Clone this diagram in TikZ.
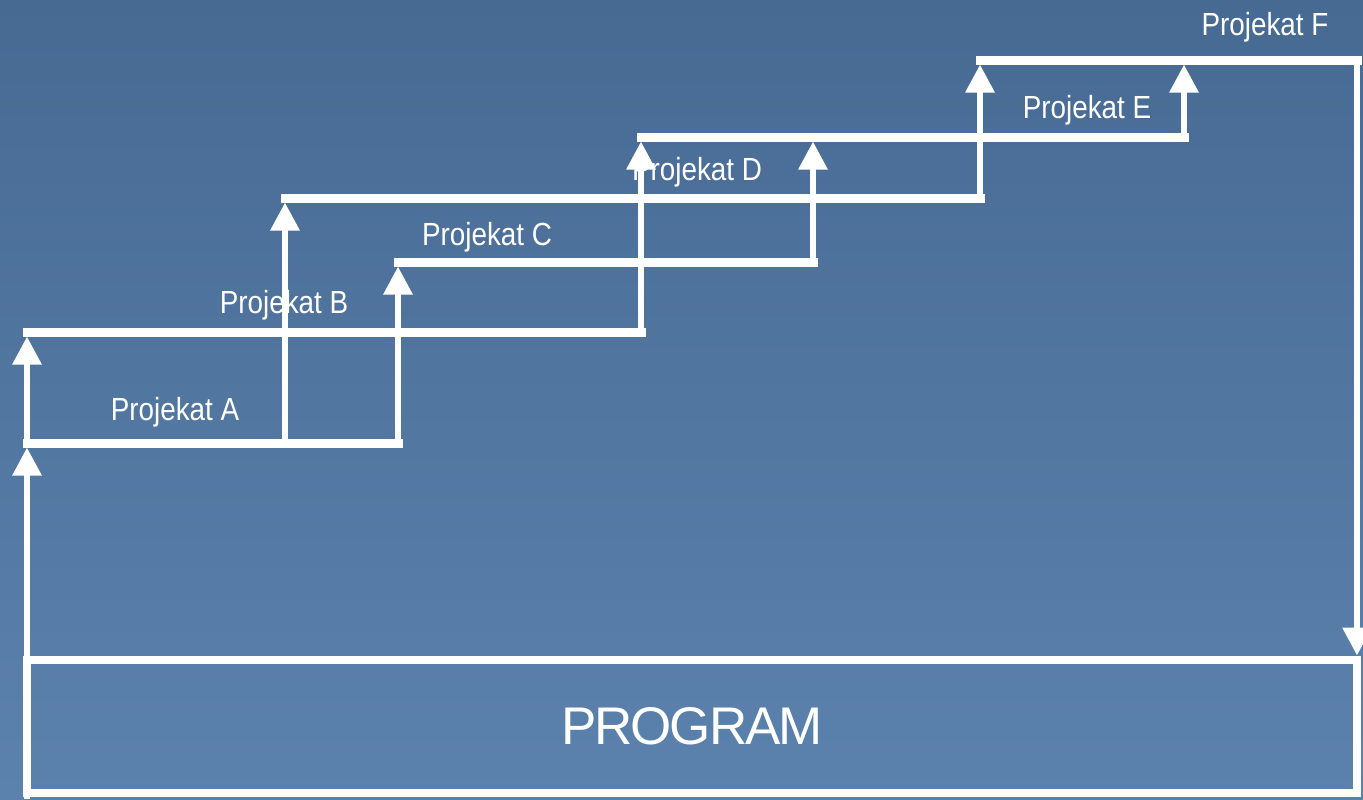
\documentclass[tikz,border=0pt]{standalone}
\usepackage{fontspec}
\setmainfont{Liberation Sans}
\newfontfamily\labfont[FakeStretch=0.87]{Liberation Sans}
\newfontfamily\progfont[LetterSpace=-4]{Liberation Sans}
\usetikzlibrary{arrows.meta}
\definecolor{bgtop}{HTML}{476A93}
\definecolor{bgbot}{HTML}{5B82AD}
\tikzset{
  hline/.style={white,line width=4.5pt,line cap=rect},
  vline/.style={white,line width=3pt,shorten >=2.25pt,-{Triangle[width=14pt,length=14pt]}},
  plabel/.style={white,anchor=base,inner sep=0pt,font=\labfont\fontsize{16pt}{18pt}\selectfont},
}
\begin{document}
\begin{tikzpicture}[x=0.5pt,y=-0.5pt]
\shade[top color=bgtop,bottom color=bgbot] (0,0) rectangle (1363,799);
\useasboundingbox (0,0) rectangle (1363,799);

% step corners
\coordinate (p0) at (27,799);
\coordinate (a1) at (27,443);
\coordinate (a2) at (398,443);
\coordinate (a3) at (285,443);
\coordinate (b1) at (27,332);
\coordinate (b2) at (641,332);
\coordinate (bt1) at (285,198);
\coordinate (bt2) at (980,198);
\coordinate (c1) at (398,262);
\coordinate (c2) at (813,262);
\coordinate (d1) at (641,137);
\coordinate (d2) at (1184,137);
\coordinate (d3) at (813,137);
\coordinate (f1) at (980,60);
\coordinate (f2) at (1357,60);
\coordinate (f3) at (1184,60);

\node[draw=white,line width=4pt,outer sep=0pt,inner sep=0pt,minimum width=665pt,minimum height=66.5pt,
  text=white,font=\progfont\fontsize{26.5pt}{30pt}\selectfont] (prog) at (692,726.5) {PROGRAM};

\draw[hline] (a1) -- (a2);
\draw[hline] (b1) -- (b2);
\draw[hline] (bt1) -- (bt2);
\draw[hline] (c1) -- (c2);
\draw[hline] (d1) -- (d2);
\draw[hline] (f1) -- (f2);

\draw[vline] (p0) -- (a1);
\draw[vline] (a1) -- (b1);
\draw[vline] (a3) -- (bt1);
\draw[vline] (a2) -- (c1);
\draw[vline] (b2) -- (d1);
\draw[vline] (c2) -- (d3);
\draw[vline] (bt2) -- (f1);
\draw[vline] (d2) -- (f3);
\draw[vline] (f2) -- (prog.north -| f2);

\node[plabel] (labA) at (175,420) {Projekat A};
\node[plabel] (labB) at (284,313) {Projekat B};
\node[plabel] (labC) at (487,245) {Projekat C};
\node[plabel] (labD) at (697,180) {Projekat D};
\node[plabel] (labE) at (1087,118) {Projekat E};
\node[plabel] (labF) at (1265,35) {Projekat F};
\end{tikzpicture}
\end{document}
